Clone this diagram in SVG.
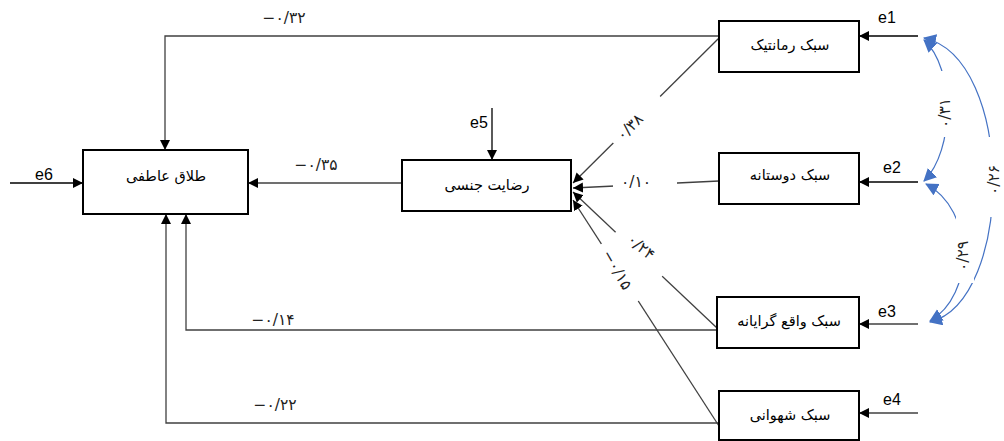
<svg xmlns="http://www.w3.org/2000/svg" width="1004" height="441" viewBox="0 0 1004 441">
<defs>
<marker id="ah" markerUnits="userSpaceOnUse" markerWidth="11" markerHeight="11" refX="10" refY="5" orient="auto">
<path d="M0,0 L10,5 L0,10 z" fill="#000"/>
</marker>
<marker id="bh" markerUnits="userSpaceOnUse" markerWidth="14" markerHeight="14" refX="12" refY="6.5" orient="auto-start-reverse">
<path d="M0,0 L13,6.5 L0,13 z" fill="#4472C4"/>
</marker>
<style>
.box{fill:#fff;stroke:#000;stroke-width:2}
.fa{font-family:"DejaVu Sans",sans-serif;font-size:14.5px;fill:#000;text-anchor:middle}
.en{font-family:"Liberation Sans",Arial,sans-serif;font-size:16px;fill:#000}
.ln{fill:none;stroke:#404040;stroke-width:1.3}
.lnb{fill:none;stroke:#000;stroke-width:1.3}
.cv{fill:none;stroke:#4472C4;stroke-width:1.2}
.num{font-family:"DejaVu Sans",sans-serif;font-size:15.5px;fill:#222;text-anchor:middle;dominant-baseline:central}
.bg{fill:#fff}
</style>
</defs>
<rect width="1004" height="441" fill="#fff"/>
<g id="connectors">
<path class="ln" d="M719,36 H165 V150" marker-end="url(#ah)"/>
<path class="ln" d="M719,38 L573,183" marker-end="url(#ah)"/>
<path class="ln" d="M719,181 L573,188" marker-end="url(#ah)"/>
<path class="ln" d="M717,328 L573,192" marker-end="url(#ah)"/>
<path class="ln" d="M719,426 L573,200" marker-end="url(#ah)"/>
<path class="ln" d="M717,330 H186 V214" marker-end="url(#ah)"/>
<path class="ln" d="M719,423 H166 V214" marker-end="url(#ah)"/>
<path class="ln" d="M402,183 H248" marker-end="url(#ah)"/>
<path class="lnb" d="M10,183 H83" marker-end="url(#ah)"/>
<path class="lnb" d="M492,108 V160" marker-end="url(#ah)"/>
<path class="lnb" d="M918,36 H859" marker-end="url(#ah)"/>
<path class="lnb" d="M918,182 H859" marker-end="url(#ah)"/>
<path class="ln" d="M918,324 H859" marker-end="url(#ah)"/>
<path class="ln" d="M918,413 H859" marker-end="url(#ah)"/>
<path class="cv" d="M924,40 C955,68 955,150 924,181" marker-start="url(#bh)" marker-end="url(#bh)"/>
<path class="cv" d="M926,184 C975,210 975,295 930,321" marker-start="url(#bh)" marker-end="url(#bh)"/>
<path class="cv" d="M924,38 C1015,58 1015,300 930,322" marker-start="url(#bh)" marker-end="url(#bh)"/>
</g>
<g id="labels">
<rect class="bg" x="613" y="175" width="64" height="18"/>
<rect class="bg" x="-33" y="-10" width="66" height="20" transform="translate(637,120) rotate(-45)"/>
<rect class="bg" x="-32" y="-10" width="64" height="20" transform="translate(640,253) rotate(43)"/>
<rect class="bg" x="-34" y="-10" width="68" height="20" transform="translate(619,273) rotate(57)"/>
<rect class="bg" x="-33" y="-9" width="66" height="18" transform="translate(947,104) rotate(-90)"/>
<rect class="bg" x="-35" y="-9" width="70" height="18" transform="translate(965,248) rotate(-90)"/>
<rect class="bg" x="-40" y="-9" width="80" height="18" transform="translate(994,177) rotate(-90)"/>
<text class="num" x="284" y="18">−۰/۳۲</text>
<text class="num" x="316" y="165">−۰/۳۵</text>
<text class="num" x="273" y="320">−۰/۱۴</text>
<text class="num" x="275" y="405">−۰/۲۲</text>
<text class="num" x="636" y="182">۰/۱۰</text>
<text class="num" transform="translate(630,127) rotate(-45)">۰/۳۸</text>
<text class="num" transform="translate(641,247) rotate(40)">۰/۲۴</text>
<text class="num" transform="translate(617,270) rotate(60)">−۰/۱۵</text>
<text class="num" transform="translate(945,113) rotate(-90)">۰/۳۱</text>
<text class="num" transform="translate(963,256) rotate(-90)">۰/۲۹</text>
<text class="num" transform="translate(994,180) rotate(-90)">۰/۲۶</text>
<text class="en" x="35" y="180">e6</text>
<text class="en" x="470" y="128">e5</text>
<text class="en" x="878" y="23">e1</text>
<text class="en" x="883" y="173">e2</text>
<text class="en" x="878" y="317">e3</text>
<text class="en" x="883" y="405">e4</text>
</g>
<g id="talagh"><rect class="box" x="83" y="150" width="165" height="64"/><text class="fa" x="166" y="181">طلاق عاطفی</text></g>
<g id="rezayat"><rect class="box" x="402" y="160" width="169" height="51"/><text class="fa" x="487" y="190">رضایت جنسی</text></g>
<g id="romantic"><rect class="box" x="719" y="21" width="140" height="51"/><text class="fa" x="790" y="50">سبک رمانتیک</text></g>
<g id="doostane"><rect class="box" x="719" y="153" width="140" height="51"/><text class="fa" x="790" y="180">سبک دوستانه</text></g>
<g id="vaghe"><rect class="box" x="717" y="297" width="142" height="51"/><text class="fa" x="789" y="326">سبک واقع گرایانه</text></g>
<g id="shahvani"><rect class="box" x="719" y="391" width="140" height="49"/><text class="fa" x="790" y="420">سبک شهوانی</text></g>
</svg>
